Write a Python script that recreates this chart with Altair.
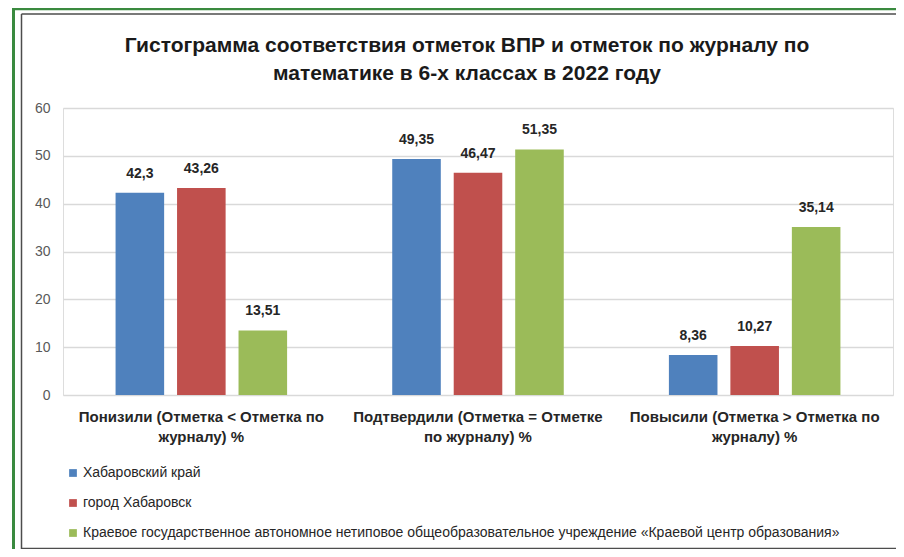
import altair as alt
import pandas as pd

categories = [
    "Понизили (Отметка < Отметка по\nжурналу) %",
    "Подтвердили (Отметка = Отметке\nпо журналу) %",
    "Повысили (Отметка > Отметка по\nжурналу) %",
]
series = [
    "Хабаровский край",
    "город Хабаровск",
    "Краевое государственное автономное нетиповое общеобразовательное учреждение «Краевой центр образования»",
]
values_kray = [42.3, 49.35, 8.36]
values_city = [43.26, 46.47, 10.27]
values_center = [13.51, 51.35, 35.14]
colors = ["#4f81bd", "#c0504d", "#9bbb59"]
title_lines = [
    "Гистограмма соответствия отметок ВПР и отметок по журналу по",
    "математике в 6-х классах в 2022 году",
]

rows = []
for s, vals in zip(series, [values_kray, values_city, values_center]):
    for c, v in zip(categories, vals):
        rows.append({"cat": c, "series": s, "value": v, "label": str(v).replace(".", ",")})
df = pd.DataFrame(rows)

FONT = "Liberation Sans Narrow, Liberation Sans, sans-serif"

x_enc = alt.X(
    "cat:N",
    sort=categories,
    title=None,
    scale=alt.Scale(paddingInner=0.38, paddingOuter=0.19),
    axis=alt.Axis(
        labelAngle=0,
        labelExpr="split(datum.label, '\\n')",
        labelFont=FONT,
        labelFontSize=15,
        labelFontWeight="bold",
        labelColor="#262626",
        labelLineHeight=20,
        labelPadding=14,
        labelLimit=400,
        domain=False,
        ticks=False,
    ),
)
xoff = alt.XOffset("series:N", sort=series, scale=alt.Scale(paddingInner=0.21, paddingOuter=0))

bars = alt.Chart(df).mark_bar().encode(
    x=x_enc,
    xOffset=xoff,
    y=alt.Y(
        "value:Q",
        title=None,
        scale=alt.Scale(domain=[0, 60]),
        axis=alt.Axis(
            values=[0, 10, 20, 30, 40, 50, 60],
            labelFont=FONT,
            labelFontSize=14,
            labelColor="#595959",
            labelPadding=13,
            grid=True,
            gridColor="#d9d9d9",
            gridWidth=1.5,
            domain=False,
            ticks=False,
        ),
    ),
    color=alt.Color(
        "series:N",
        sort=series,
        scale=alt.Scale(domain=series, range=colors),
        legend=alt.Legend(
            title=None,
            orient="none",
            legendX=3,
            legendY=358,
            direction="vertical",
            symbolType="square",
            symbolSize=60,
            symbolStrokeWidth=0,
            labelFont=FONT,
            labelFontSize=14,
            labelColor="#262626",
            labelLimit=900,
            rowPadding=16,
            labelOffset=3,
        ),
    ),
)

texts = alt.Chart(df).mark_text(
    dy=-12, font=FONT, fontSize=14, fontWeight="bold", color="#262626", baseline="bottom"
).encode(
    x=alt.X("cat:N", sort=categories),
    xOffset=xoff,
    y="value:Q",
    text="label:N",
)

one = pd.DataFrame({"a": [0]})
green = "#3a8a3f"
gray = "#4d4d4d"
frame = alt.layer(
    alt.Chart(one).mark_rule(color=green, strokeWidth=3).encode(
        x=alt.value(-49.5), y=alt.value(-100), y2=alt.value(445)),
    alt.Chart(one).mark_rule(color=green, strokeWidth=2.5).encode(
        x=alt.value(-51), x2=alt.value(840), y=alt.value(-99)),
    alt.Chart(one).mark_rule(color=gray, strokeWidth=1.5).encode(
        x=alt.value(-41.5), y=alt.value(-94), y2=alt.value(442)),
    alt.Chart(one).mark_rule(color=gray, strokeWidth=1.5).encode(
        x=alt.value(-41.5), x2=alt.value(840), y=alt.value(-94)),
    alt.Chart(one).mark_rule(color=gray, strokeWidth=1.5).encode(
        x=alt.value(-41.5), x2=alt.value(840), y=alt.value(440.5)),
)

chart = alt.layer(bars, texts, frame).properties(
    width=830,
    height=287,
    autosize=alt.AutoSizeParams(type="none"),
    padding={"left": 55, "top": 100, "right": 3, "bottom": 154},
    title=alt.TitleParams(
        text=title_lines,
        font=FONT,
        fontSize=21,
        fontWeight="bold",
        color="#1a1a1a",
        anchor="middle",
        lineHeight=28,
        offset=26,
        dy=103,
        dx=-11,
    ),
).configure_view(stroke=None).configure(background="white")

chart.save("out.html", embed_options={"renderer": "svg", "actions": False})
